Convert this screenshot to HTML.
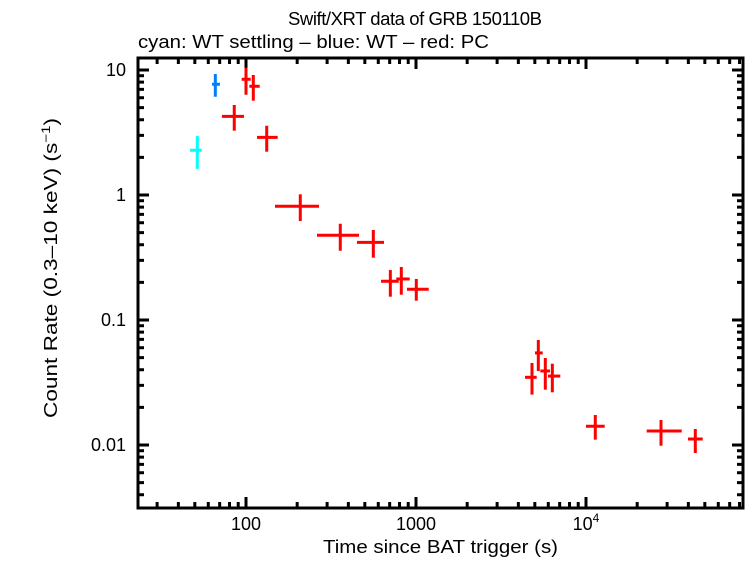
<!DOCTYPE html>
<html><head><meta charset="utf-8"><style>
body{margin:0;background:#fff;}
svg text{font-family:"Liberation Sans",sans-serif;fill:#000;}
</style></head><body>
<svg id="chart" width="746" height="558" viewBox="0 0 746 558" xmlns="http://www.w3.org/2000/svg">
<text x="288" y="25" font-size="18.5" textLength="254" lengthAdjust="spacing">Swift/XRT data of GRB 150110B</text>
<text x="138" y="48" font-size="18" textLength="351" lengthAdjust="spacingAndGlyphs">cyan: WT settling – blue: WT – red: PC</text>
<text x="323" y="553" font-size="18" textLength="235" lengthAdjust="spacingAndGlyphs">Time since BAT trigger (s)</text>
<text transform="translate(57,418) rotate(-90)" font-size="18" textLength="300" lengthAdjust="spacingAndGlyphs">Count Rate (0.3–10 keV) (s<tspan font-size="12" dy="-7">−1</tspan><tspan dy="7">)</tspan></text>
<g id="ticks"></g>
<g id="marks"></g>
<rect x="138" y="58" width="605" height="450" fill="none" stroke="#000" stroke-width="3"/>
</svg>
<script>
const series = ['cyan','blue','red','red','red','red','red','red','red','red','red','red','red','red','red','red','red','red','red'];
const times   = [51.7,66.0,100,110.4,85.3,132.4,208.6,358.6,561,706.3,819.5,1004,4813,5242,5763,6338,11342,27620,43950];
const timeLo  = [46.9,63.1,94.3,104.6,72.2,116.1,148.1,261.6,449.8,622.5,765.8,885,4377,5012,5386,5977,10000,22750,39810];
const timeHi  = [54.9,70.3,106.6,120.4,97.3,153.6,268.8,462,648.3,791,918.3,1187.6,5129,5564,6138,7061,12882,36560,48590];
const rates   = [2.28,7.69,8.43,7.41,4.26,2.89,0.812,0.476,0.418,0.204,0.213,0.176,0.0348,0.0545,0.0391,0.0356,0.01411,0.01294,0.01117];
const rateHi  = [2.96,9.29,10.43,9.12,5.25,3.58,1.013,0.589,0.525,0.251,0.2655,0.213,0.0453,0.0692,0.0497,0.0447,0.01738,0.01585,0.01343];
const rateLo  = [1.62,6.11,6.34,5.68,3.27,2.22,0.619,0.358,0.315,0.1536,0.1594,0.1427,0.0253,0.0391,0.0277,0.0264,0.01103,0.00987,0.00863];
const xTickLabels = ['100','1000','10^4'];
const xTickValues = [100,1000,10000];
const yTickLabels = ['10','1','0.1','0.01'];
const yTickValues = [10,1,0.1,0.01];

const L=138,R=743,T=58,B=508;
function xs(t){return 246+170*Math.log10(t/100);}
function ys(r){return 195-125*Math.log10(r);}
const NS='http://www.w3.org/2000/svg';
function mk(tag,attrs,parent){const e=document.createElementNS(NS,tag);for(const k in attrs)e.setAttribute(k,attrs[k]);parent.appendChild(e);return e;}
const colors={cyan:'#00ffff',blue:'#0080ff',red:'#ff0000'};
const tg=document.getElementById('ticks'), mg=document.getElementById('marks');
for(let d=1;d<=4;d++){for(let m=1;m<=9;m++){const v=m*Math.pow(10,d);const x=xs(v);if(x<L||x>R)continue;const len=m===1?11:6;
 const a=mk('line',{x1:x,x2:x,y1:B,y2:B-len,stroke:'#000','stroke-width':3},tg);
 
 const b=mk('line',{x1:x,x2:x,y1:T,y2:T+len,stroke:'#000','stroke-width':3},tg);
 }}
for(let d=-3;d<=1;d++){for(let m=1;m<=9;m++){const v=m*Math.pow(10,d);const y=ys(v);if(y<T||y>B)continue;const len=m===1?11:6;
 const a=mk('line',{x1:L,x2:L+len,y1:y,y2:y,stroke:'#000','stroke-width':3},tg);
 
 const b=mk('line',{x1:R,x2:R-len,y1:y,y2:y,stroke:'#000','stroke-width':3},tg);
 }}
xTickValues.forEach((v,i)=>{const t=mk('text',{x:xs(v),y:530,'font-size':18,'text-anchor':'middle'},tg);
 
 const lab=xTickLabels[i];
 if(lab.indexOf('^')>0){const p=lab.split('^');t.textContent=p[0];const s=mk('tspan',{'font-size':12,dy:-8},t);s.textContent=p[1];}
 else t.textContent=lab;});
yTickValues.forEach((v,i)=>{const t=mk('text',{x:126,y:ys(v)+6,'font-size':18,'text-anchor':'end'},tg);
 
 t.textContent=yTickLabels[i];});
times.forEach((t,i)=>{const c=colors[series[i]];const g=mk('g',{},mg);
 
 mk('line',{x1:xs(timeLo[i]),x2:xs(timeHi[i]),y1:ys(rates[i]),y2:ys(rates[i]),stroke:c,'stroke-width':3},g);
 mk('line',{x1:xs(t),x2:xs(t),y1:ys(rateHi[i]),y2:ys(rateLo[i]),stroke:c,'stroke-width':3},g);});
</script>
</body></html>
